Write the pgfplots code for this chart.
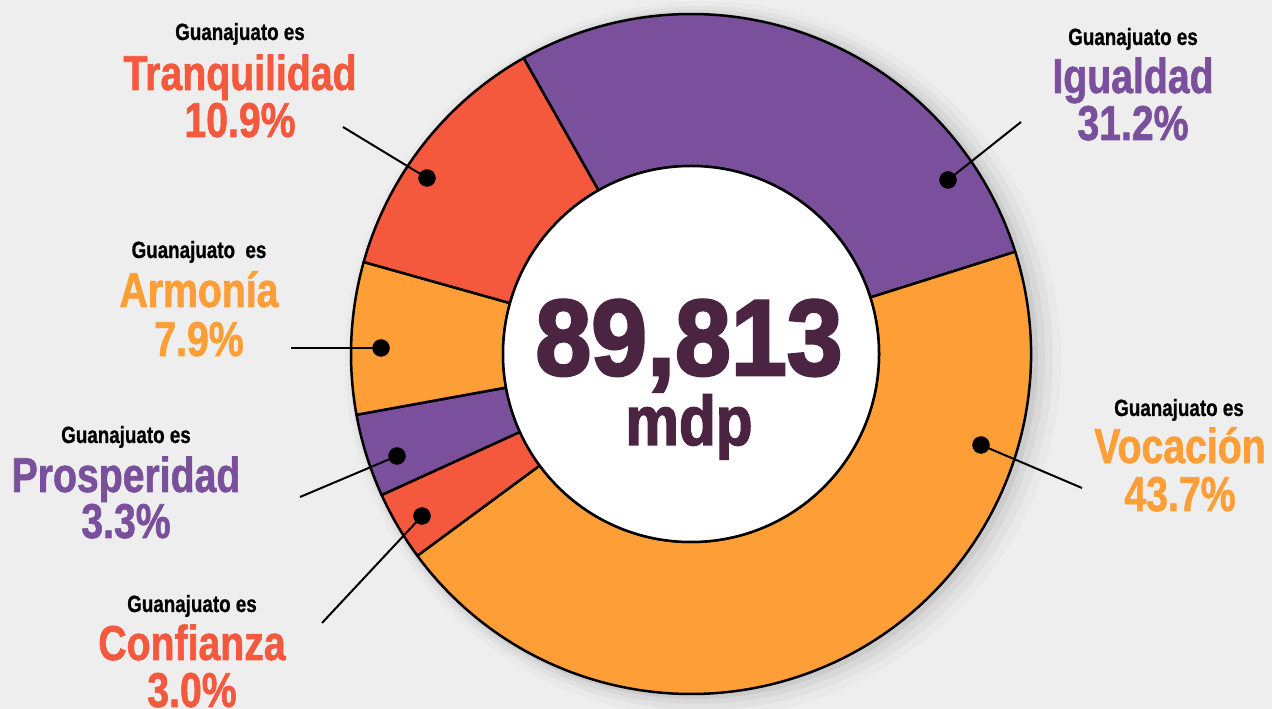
\documentclass[border=0pt]{standalone}
\usepackage{pgfplots}
\pgfplotsset{compat=1.18}
\usepackage{fontspec}
\setmainfont{Liberation Sans}
\newfontfamily\lblfont{Liberation Sans}[UprightFont={* Bold}, FakeStretch=0.8, FakeBold=1.2]
\newfontfamily\smallfont{Liberation Sans}[UprightFont={* Bold}, FakeStretch=0.8, FakeBold=0.8]
\newfontfamily\numfont{Liberation Sans}[UprightFont={* Bold}, FakeStretch=0.93, FakeBold=2.5]
\newfontfamily\mdpfont{Liberation Sans}[UprightFont={* Bold}, FakeStretch=0.86, FakeBold=2]
\definecolor{cred}{HTML}{F4583D}
\definecolor{corange}{HTML}{FE9E37}
\definecolor{cpurple}{HTML}{7A509C}
\definecolor{cplum}{HTML}{4A2440}
\definecolor{bg}{HTML}{EEEEEE}
\newcommand\gfont{\smallfont\fontsize{23.5}{24}\selectfont}
\newcommand\nfont{\lblfont\fontsize{49}{49}\selectfont}
\begin{document}
\begin{tikzpicture}
\begin{axis}[x=1pt, y=1pt, xmin=0, xmax=1272, ymin=0, ymax=709,
  hide axis, clip=false, at={(0,0)}, anchor=south west]
% background
\fill[bg] (axis cs:0,0) rectangle (axis cs:1272,709);
% soft shadow (mostly to the right)
\fill[black, opacity=0.02] (axis cs:703,350) circle[radius=358pt];
\fill[black, opacity=0.03] (axis cs:701,351) circle[radius=352pt];
\fill[black, opacity=0.04] (axis cs:698,352) circle[radius=347pt];
\fill[black, opacity=0.05] (axis cs:695,353) circle[radius=343pt];
% donut wedges (boundary angles in degrees)
\filldraw[fill=cpurple, draw=black, line width=2.5pt, line join=round]
  ([shift={(119.5:340pt)}]axis cs:691,355) arc[start angle=119.5, end angle=17.5, radius=340pt]
  -- ([shift={(17.5:188pt)}]axis cs:691,355) arc[start angle=17.5, end angle=119.5, radius=188pt] -- cycle;
\filldraw[fill=corange, draw=black, line width=2.5pt, line join=round]
  ([shift={(17.5:340pt)}]axis cs:691,355) arc[start angle=17.5, end angle=-143.6, radius=340pt]
  -- ([shift={(-143.6:188pt)}]axis cs:691,355) arc[start angle=-143.6, end angle=17.5, radius=188pt] -- cycle;
\filldraw[fill=cred, draw=black, line width=2.5pt, line join=round]
  ([shift={(-143.6:340pt)}]axis cs:691,355) arc[start angle=-143.6, end angle=-155.5, radius=340pt]
  -- ([shift={(-155.5:188pt)}]axis cs:691,355) arc[start angle=-155.5, end angle=-143.6, radius=188pt] -- cycle;
\filldraw[fill=cpurple, draw=black, line width=2.5pt, line join=round]
  ([shift={(-155.5:340pt)}]axis cs:691,355) arc[start angle=-155.5, end angle=-169.7, radius=340pt]
  -- ([shift={(-169.7:188pt)}]axis cs:691,355) arc[start angle=-169.7, end angle=-155.5, radius=188pt] -- cycle;
\filldraw[fill=corange, draw=black, line width=2.5pt, line join=round]
  ([shift={(-169.7:340pt)}]axis cs:691,355) arc[start angle=-169.7, end angle=-195.7, radius=340pt]
  -- ([shift={(-195.7:188pt)}]axis cs:691,355) arc[start angle=-195.7, end angle=-169.7, radius=188pt] -- cycle;
\filldraw[fill=cred, draw=black, line width=2.5pt, line join=round]
  ([shift={(-195.7:340pt)}]axis cs:691,355) arc[start angle=-195.7, end angle=-240.5, radius=340pt]
  -- ([shift={(-240.5:188pt)}]axis cs:691,355) arc[start angle=-240.5, end angle=-195.7, radius=188pt] -- cycle;
\filldraw[fill=white, draw=black, line width=2.5pt] (axis cs:691,355) circle[radius=188pt];
% leader lines
\addplot[black, line width=2pt] coordinates {(343,582) (427,531)};
\addplot[black, line width=2pt] coordinates {(948,529) (1021,587)};
\addplot[black, line width=2pt] coordinates {(291,361) (381,361)};
\addplot[black, line width=2pt] coordinates {(397,253) (300,212)};
\addplot[black, line width=2pt] coordinates {(422,193) (322,86)};
\addplot[black, line width=2pt] coordinates {(981,264) (1082,221)};
\addplot[only marks, mark=*, mark size=8.5pt, black] coordinates {(427,531) (948,529) (381,361) (397,253) (422,193) (981,264)};
% labels
\node[anchor=base, inner sep=0, font=\gfont] at (axis cs:240,669) {Guanajuato es};
\node[anchor=base, inner sep=0, font=\nfont, text=cred] at (axis cs:240,619) {Tranquilidad};
\node[anchor=base, inner sep=0, font=\nfont, text=cred] at (axis cs:240,572) {10.9\%};
\node[anchor=base, inner sep=0, font=\gfont] at (axis cs:1133,664) {Guanajuato es};
\node[anchor=base, inner sep=0, font=\nfont, text=cpurple] at (axis cs:1133,616) {Igualdad};
\node[anchor=base, inner sep=0, font=\nfont, text=cpurple] at (axis cs:1133,569) {31.2\%};
\node[anchor=base, inner sep=0, font=\gfont] at (axis cs:199,451) {Guanajuato\ \ es};
\node[anchor=base, inner sep=0, font=\nfont, text=corange] at (axis cs:199,402) {Armonía};
\node[anchor=base, inner sep=0, font=\nfont, text=corange] at (axis cs:199,353) {7.9\%};
\node[anchor=base, inner sep=0, font=\gfont] at (axis cs:126,266) {Guanajuato es};
\node[anchor=base, inner sep=0, font=\nfont, text=cpurple] at (axis cs:126,217) {Prosperidad};
\node[anchor=base, inner sep=0, font=\nfont, text=cpurple] at (axis cs:126,171) {3.3\%};
\node[anchor=base, inner sep=0, font=\gfont] at (axis cs:192,97) {Guanajuato es};
\node[anchor=base, inner sep=0, font=\nfont, text=cred] at (axis cs:192,49) {Confianza};
\node[anchor=base, inner sep=0, font=\nfont, text=cred] at (axis cs:192,2) {3.0\%};
\node[anchor=base, inner sep=0, font=\gfont] at (axis cs:1179,293) {Guanajuato es};
\node[anchor=base, inner sep=0, font=\nfont, text=corange] at (axis cs:1180,246) {Vocación};
\node[anchor=base, inner sep=0, font=\nfont, text=corange] at (axis cs:1180,198) {43.7\%};
% centre
\node[anchor=base, inner sep=0, text depth=0pt, text=cplum, font=\numfont\fontsize{108}{108}\selectfont] at (axis cs:689,334) {89,813};
\node[anchor=base, inner sep=0, text depth=0pt, text=cplum, font=\mdpfont\fontsize{70}{70}\selectfont] at (axis cs:689,264) {mdp};
\end{axis}
\pgfresetboundingbox
\path[use as bounding box] (0,0) rectangle (1272pt,709pt);
\end{tikzpicture}
\end{document}
